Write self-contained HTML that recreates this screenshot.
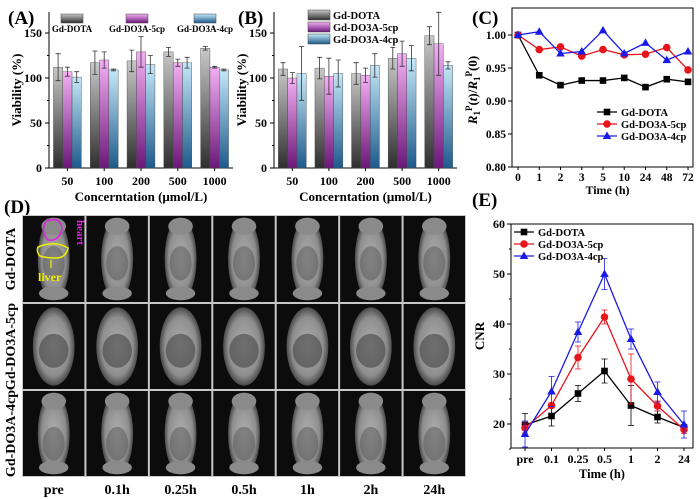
<!DOCTYPE html>
<html><head><meta charset="utf-8"><style>
body{margin:0;background:#fff}
svg{display:block;font-family:"Liberation Serif",serif;font-weight:bold}
</style></head><body>
<svg id="s" width="700" height="499" viewBox="0 0 700 499">
<defs>
<linearGradient id="gGray" x1="0" y1="0" x2="0" y2="1"><stop offset="0" stop-color="#c8c8c8"/><stop offset="1" stop-color="#2e2e2e"/></linearGradient>
<linearGradient id="gMag" x1="0" y1="0" x2="0" y2="1"><stop offset="0" stop-color="#f4b0f4"/><stop offset="1" stop-color="#6a1878"/></linearGradient>
<linearGradient id="gBlue" x1="0" y1="0" x2="0" y2="1"><stop offset="0" stop-color="#c4e8f8"/><stop offset="1" stop-color="#1e5a8c"/></linearGradient>
<radialGradient id="gBody" cx="0.5" cy="0.5" r="0.5"><stop offset="0" stop-color="#b0b0b0"/><stop offset="0.75" stop-color="#8e8e8e"/><stop offset="1" stop-color="#4a4a4a"/></radialGradient>
</defs>
</svg>
<script>
const NS='http://www.w3.org/2000/svg';
const svg=document.getElementById('s');
function mk(tag,attrs,parent,text){const e=document.createElementNS(NS,tag);for(const k in attrs)e.setAttribute(k,attrs[k]);if(text!==undefined)e.textContent=text;(parent||svg).appendChild(e);return e;}

// ---- data ----
const concCategories=['50','100','200','500','1000'];
const aDota=[112,117,119,129,133];
const aDota_err=[15,13,12,5,2];
const a5cp=[107,120,129,117,112];
const a5cp_err=[5,9,17,4,1];
const a4cp=[101,109,115,117,109];
const a4cp_err=[6,1,10,6,1];
const bDota=[110,111,105,122,147];
const bDota_err=[7,12,12,12,10];
const b5cp=[100,102,103,127,138];
const b5cp_err=[6,20,8,14,35];
const b4cp=[105,105,114,122,114];
const b4cp_err=[30,15,13,14,4];
const viabTicks=[0,50,100,150];
const timeC=['0','1','2','3','5','10','24','48','72'];
const cDota=[1.0,0.939,0.924,0.931,0.931,0.935,0.921,0.933,0.929];
const c5cp=[1.0,0.978,0.982,0.968,0.978,0.970,0.971,0.981,0.947];
const c4cp=[1.0,1.005,0.972,0.975,1.007,0.972,0.988,0.962,0.975];
const cTicks=[0.80,0.85,0.90,0.95,1.00];
const timeE=['pre','0.1','0.25','0.5','1','2','24'];
const eDota=[19.8,21.6,26.1,30.6,23.7,21.4,19.3];
const eDota_err=[2.3,2,1.6,2.4,4,1.2,0.5];
const e5cp=[19.2,23.7,33.3,41.4,29,23.6,18.9];
const e5cp_err=[1,0.5,2.3,1.4,5,1,0.8];
const e4cp=[18,26.5,38.4,50,37,26.4,19.9];
const e4cp_err=[2.6,3,2,3.1,2,2,2.7];
const eTicks=[20,30,40,50,60];
const mriTimes=['pre','0.1h','0.25h','0.5h','1h','2h','24h'];
const mriGroups=['Gd-DOTA','Gd-DO3A-5cp','Gd-DO3A-4cp'];

// ---- panel labels ----
[['(A)',8,24],['(B)',238,24],['(C)',472,24],['(D)',4,213],['(E)',472,206]].forEach(p=>{
  const t=mk('text',{x:p[1],y:p[2],'font-size':19},svg,p[0]);
  
  
});

// ---- bar panels ----
function barPanel(id,x0,x1,series,errs,legendMode){
  const g=mk('g',{});
  
  
  const yTop=12,y0=168;
  const ys=v=>y0-v*(45/50);
  mk('line',{x1:x0,y1:yTop,x2:x0,y2:y0,stroke:'#000','stroke-width':1},g);
  mk('line',{x1:x0,y1:y0,x2:x1,y2:y0,stroke:'#000','stroke-width':1},g);
  viabTicks.forEach(t=>{
    mk('line',{x1:x0-4,y1:ys(t),x2:x0,y2:ys(t),stroke:'#000'},g);
    const tl=mk('text',{x:x0-7,y:ys(t)+4,'font-size':12,'text-anchor':'end'},g,t);
    
    
    if(t<150) mk('line',{x1:x0-2,y1:ys(t+25),x2:x0,y2:ys(t+25),stroke:'#000'},g);
  });
  const yt=mk('text',{transform:`translate(${x0-28},${(yTop+y0)/2}) rotate(-90)`,'font-size':13,'text-anchor':'middle'},g,'Viability (%)');
  
  
  const n=concCategories.length, gw=(x1-x0)/n;
  const fills=['url(#gGray)','url(#gMag)','url(#gBlue)'];
  const bw=9.3;
  concCategories.forEach((c,i)=>{
    const cx=x0+gw*(i+0.5);
    mk('line',{x1:cx,y1:y0,x2:cx,y2:y0+3,stroke:'#000'},g);
    const xl=mk('text',{x:cx,y:y0+17,'font-size':12,'text-anchor':'middle'},g,c);
    
    
    series.forEach((s,k)=>{
      const bx=cx+(k-1.5)*bw;
      const r=mk('rect',{x:bx,y:ys(s[i]),width:bw,height:y0-ys(s[i]),fill:fills[k],stroke:'#444','stroke-width':0.4},g);
      
      
      const ex=bx+bw/2,e=errs[k][i];
      mk('path',{d:`M${ex} ${ys(s[i]-e)}V${ys(s[i]+e)}M${ex-2.5} ${ys(s[i]-e)}h5M${ex-2.5} ${ys(s[i]+e)}h5`,stroke:'#333','stroke-width':0.8,fill:'none'},g);
    });
  });
  const xt=mk('text',{x:(x0+x1)/2,y:y0+33,'font-size':13,'text-anchor':'middle'},g,'Concerntation (\u03bcmol/L)');
  
  
  const names=['Gd-DOTA','Gd-DO3A-5cp','Gd-DO3A-4cp'];
  if(legendMode==='row'){
    [[60,72],[115,137],[185,205]].forEach((p,k)=>{
      const le=mk('g',{},g);
      
      
      mk('rect',{x:p[1]-11,y:14,width:22,height:9,fill:fills[k],stroke:'#444','stroke-width':0.5},le);
      mk('text',{x:p[1],y:32,'font-size':9,'text-anchor':'middle'},le,names[k]);
    });
  } else {
    names.forEach((nm,k)=>{
      const le=mk('g',{},g);
      
      
      mk('rect',{x:308,y:10+k*12,width:22,height:10,fill:fills[k],stroke:'#444','stroke-width':0.5},le);
      mk('text',{x:333,y:19+k*12,'font-size':10.5},le,nm);
    });
  }
}
barPanel('a',49,233,[aDota,a5cp,a4cp],[aDota_err,a5cp_err,a4cp_err],'row');
barPanel('b',274,457,[bDota,b5cp,b4cp],[bDota_err,b5cp_err,b4cp_err],'col');

// ---- markers ----
function marker(g,kind,x,y,color){
  let m;
  if(kind==='sq') m=mk('rect',{x:x-3.3,y:y-3.3,width:6.6,height:6.6,fill:color},g);
  else if(kind==='ci') m=mk('circle',{cx:x,cy:y,r:3.8,fill:color},g);
  else m=mk('path',{d:`M${x} ${y-4.5}L${x+4.3} ${y+3}L${x-4.3} ${y+3}Z`,fill:color},g);
  
  
}
const colors=['#000','#e8141c','#1a1ae6'];
const kinds=['sq','ci','tr'];
const names=['Gd-DOTA','Gd-DO3A-5cp','Gd-DO3A-4cp'];

// ---- panel C ----
(function(){
  const g=mk('g',{});
  
  
  const x0=512,x1=693,yTop=8,y0=167;
  const ys=v=>35+(1.0-v)*(33/0.05);
  const xs=i=>518+i*(688-518)/(timeC.length-1);
  mk('rect',{x:x0,y:yTop,width:x1-x0,height:y0-yTop,fill:'none',stroke:'#000'},g);
  cTicks.forEach(t=>{
    mk('line',{x1:x0-4,y1:ys(t),x2:x0,y2:ys(t),stroke:'#000'},g);
    const tl=mk('text',{x:x0-6,y:ys(t)+4,'font-size':11.5,'text-anchor':'end'},g,t.toFixed(2));
    
    
  });
  timeC.forEach((c,i)=>{
    mk('line',{x1:xs(i),y1:y0,x2:xs(i),y2:y0+3,stroke:'#000'},g);
    const xl=mk('text',{x:xs(i),y:y0+14,'font-size':11.5,'text-anchor':'middle'},g,c);
    
    
  });
  const xt=mk('text',{x:(x0+x1)/2+5,y:y0+27,'font-size':12,'text-anchor':'middle'},g,'Time (h)');
  
  
  const yt=mk('text',{transform:`translate(${x0-35},${90}) rotate(-90)`,'font-size':13,'text-anchor':'middle','font-style':'italic'},g);
  
  
  yt.innerHTML='R<tspan font-size="9" dy="3" font-style="normal">1</tspan><tspan font-size="9" dy="-8" font-style="normal">P</tspan><tspan dy="5" font-style="normal">(</tspan>t<tspan font-style="normal">)/</tspan>R<tspan font-size="9" dy="3" font-style="normal">1</tspan><tspan font-size="9" dy="-8" font-style="normal">P</tspan><tspan dy="5" font-style="normal">(0)</tspan>';
  [cDota,c5cp,c4cp].forEach((s,k)=>{
    const l=mk('polyline',{points:s.map((v,i)=>xs(i)+','+ys(v)).join(' '),fill:'none',stroke:colors[k],'stroke-width':1.3},g);
    
    
    s.forEach((v,i)=>marker(g,kinds[k],xs(i),ys(v),colors[k]));
    const le=mk('g',{},g);
    
    
    const ly=112+k*12;
    mk('line',{x1:597,y1:ly,x2:617,y2:ly,stroke:colors[k],'stroke-width':1.3},le);
    marker(le,kinds[k],607,ly,colors[k]);
    mk('text',{x:621,y:ly+4,'font-size':10.5},le,names[k]);
  });
})();

// ---- panel E ----
(function(){
  const g=mk('g',{});
  
  
  const x0=511,x1=693,yTop=224,y0=448;
  const ys=v=>424-(v-20)*5;
  const xs=i=>525+i*(684-525)/(timeE.length-1);
  mk('rect',{x:x0,y:yTop,width:x1-x0,height:y0-yTop,fill:'none',stroke:'#000'},g);
  eTicks.forEach(t=>{
    mk('line',{x1:x0-4,y1:ys(t),x2:x0,y2:ys(t),stroke:'#000'},g);
    mk('line',{x1:x0-2,y1:ys(t-5),x2:x0,y2:ys(t-5),stroke:'#000'},g);
    const tl=mk('text',{x:x0-6,y:ys(t)+4,'font-size':12,'text-anchor':'end'},g,t);
    
    
  });
  timeE.forEach((c,i)=>{
    mk('line',{x1:xs(i),y1:y0,x2:xs(i),y2:y0+3,stroke:'#000'},g);
    const xl=mk('text',{x:xs(i),y:y0+15,'font-size':12,'text-anchor':'middle'},g,c);
    
    
  });
  const xt=mk('text',{x:(x0+x1)/2,y:y0+30,'font-size':12.5,'text-anchor':'middle'},g,'Time (h)');
  
  
  const yt=mk('text',{transform:`translate(${x0-27},${336}) rotate(-90)`,'font-size':13,'text-anchor':'middle'},g,'CNR');
  
  
  const errs=[eDota_err,e5cp_err,e4cp_err];
  [eDota,e5cp,e4cp].forEach((s,k)=>{
    s.forEach((v,i)=>{
      const e=errs[k][i],x=xs(i);
      mk('path',{d:`M${x} ${ys(v-e)}V${ys(v+e)}M${x-3} ${ys(v-e)}h6M${x-3} ${ys(v+e)}h6`,stroke:colors[k],'stroke-width':0.8,fill:'none'},g);
    });
    const l=mk('polyline',{points:s.map((v,i)=>xs(i)+','+ys(v)).join(' '),fill:'none',stroke:colors[k],'stroke-width':1.3},g);
    
    
    s.forEach((v,i)=>marker(g,kinds[k],xs(i),ys(v),colors[k]));
    const le=mk('g',{},g);
    
    
    const ly=232+k*12;
    mk('line',{x1:514,y1:ly,x2:534,y2:ly,stroke:colors[k],'stroke-width':1.3},le);
    marker(le,kinds[k],524,ly,colors[k]);
    mk('text',{x:538,y:ly+4,'font-size':10.5},le,names[k]);
  });
})();

// ---- panel D (MRI grid) ----
(function(){
  const g=mk('g',{});
  
  
  const gx0=22,gx1=466,rowsY=[215,303,390,477];
  const cw=(gx1-gx0)/mriTimes.length;
  mk('rect',{x:gx0,y:215,width:gx1-gx0,height:262,fill:'#c8c8c8'},g);
  mriGroups.forEach((grp,r)=>{
    mriTimes.forEach((t,c)=>{
      const x=gx0+c*cw+1,y=rowsY[r]+1,w=cw-2,h=rowsY[r+1]-rowsY[r]-2;
      const cell=mk('g',{},g);
      
      
      mk('rect',{x:x,y:y,width:w,height:h,fill:'#0c0c0c'},cell);
      const cx=x+w/2;
      if(r===1){
        mk('ellipse',{cx:cx,cy:y+h*0.5,rx:w*0.34,ry:h*0.46,fill:'url(#gBody)'},cell);
        mk('ellipse',{cx:cx,cy:y+h*0.55,rx:w*0.24,ry:h*0.2,fill:'#444',opacity:0.6},cell);
      } else {
        mk('ellipse',{cx:cx,cy:y+h*0.5,rx:w*0.26,ry:h*0.48,fill:'url(#gBody)'},cell);
        mk('ellipse',{cx:cx,cy:y+h*0.12,rx:w*0.2,ry:h*0.1,fill:'#8a8a8a'},cell);
        mk('ellipse',{cx:cx,cy:y+h*0.9,rx:w*0.24,ry:h*0.08,fill:'#8a8a8a'},cell);
        mk('ellipse',{cx:cx,cy:y+h*(r===0?0.55:0.62),rx:w*0.18,ry:h*0.2,fill:'#555',opacity:0.5},cell);
      }
    });
    const rl=mk('text',{transform:`translate(${15},${(rowsY[r]+rowsY[r+1])/2}) rotate(-90)`,'font-size':14,'text-anchor':'middle'},g,grp);
    
    
  });
  mriTimes.forEach((t,c)=>{
    const cl=mk('text',{x:gx0+(c+0.5)*cw,y:494,'font-size':14,'text-anchor':'middle'},g,t);
    
    
  });
  const an=mk('g',{},g);
  
  
  mk('path',{d:'M46 221 Q62 216 62 230 Q58 242 48 240 Q40 232 46 221Z',fill:'none',stroke:'#e020e0','stroke-width':1.5},an);
  mk('path',{d:'M38 247 Q55 240 68 248 Q66 258 56 258 Q46 258 40 256 Q36 252 38 247Z',fill:'none',stroke:'#f0f000','stroke-width':1.5},an);
  mk('text',{transform:'translate(77,220) rotate(90)','font-size':11,fill:'#e020e0'},an,'heart');
  mk('line',{x1:51,y1:260,x2:51,y2:268,stroke:'#f0f000','stroke-width':1.2},an);
  mk('text',{x:38,y:281,'font-size':12,fill:'#f0f000'},an,'liver');
})();
</script>
</body></html>
